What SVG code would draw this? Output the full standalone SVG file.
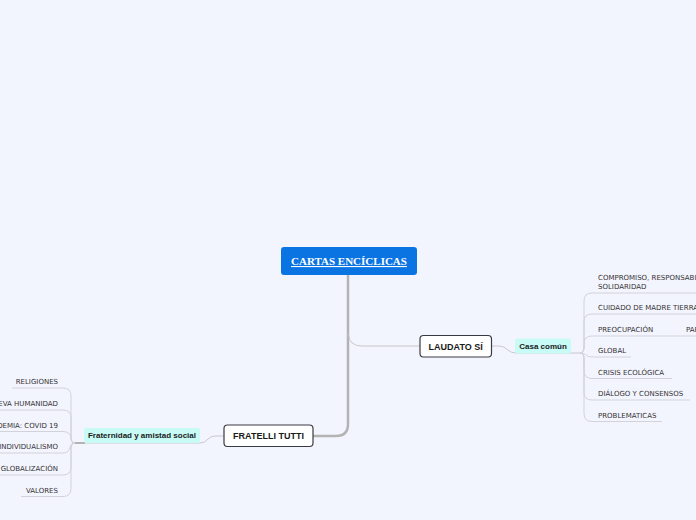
<svg xmlns="http://www.w3.org/2000/svg" width="696" height="520" viewBox="0 0 696 520">
<style>
.bg{fill:#f3f5fe}
.main{fill:#0b74e3}
.mt{font-family:"Liberation Serif",serif;font-weight:bold;font-size:11px;fill:#ffffff;text-decoration:underline}
.topic{fill:#ffffff;stroke:#3a3a44;stroke-width:1.2}
.tt{font-family:"Liberation Sans",Arial,sans-serif;font-weight:bold;font-size:9px;fill:#1a1a1a}
.sub{fill:#c9fbf6}
.st{font-family:"Liberation Sans",Arial,sans-serif;font-weight:bold;font-size:8px;fill:#1a1a1a}
.lt{font-family:"DejaVu Sans",Verdana,sans-serif;font-size:7px;fill:#333333}
.thick{fill:none;stroke:#b3b3b3;stroke-width:2.5}
.thin{fill:none;stroke:#c8c8cc;stroke-width:1}
.ul{fill:none;stroke:#d2d2d8;stroke-width:1}
</style>
<rect class="bg" x="0" y="0" width="696" height="520"/>
<g id="connectors">
<path class="thick" d="M348,274 V424 Q348,436 336,436 H313"/>
<path class="thin" d="M348.5,334 Q349,346 362,346 H420"/>
<path class="thin" d="M491,346 H499 Q504,346 508,350 Q511,353 516,353 H580"/>
<path class="thin" d="M224,436 H215 Q211,436 208,439 Q205,443 200,443 H85"/>
<path class="thick" d="M85,443 H75" style="stroke-width:2"/>
<!-- right fan -->
<path class="ul" d="M580,353 Q584,353 584,347 V301 Q584,293 592,293 H696"/>
<path class="ul" d="M580,353 Q584,353 584,347 V322 Q584,314 592,314 H696"/>
<path class="ul" d="M580,353 Q584,353 584,347 V344 Q584,336 592,336 H696"/>
<path class="ul" d="M580,353 Q584,353 586,355 Q588,357 592,357 H631"/>
<path class="ul" d="M580,353 Q584,353 584,359 V370.5 Q584,378.5 592,378.5 H672"/>
<path class="ul" d="M580,353 Q584,353 584,359 V392 Q584,400 592,400 H690"/>
<path class="ul" d="M580,353 Q584,353 584,359 V413.5 Q584,421.5 592,421.5 H662"/>
<!-- left fan -->
<path class="ul" d="M75,443 Q71,443 71,437 V396 Q71,388 63,388 H12"/>
<path class="ul" d="M75,443 Q71,443 71,437 V418 Q71,410 63,410 H0"/>
<path class="ul" d="M75,443 Q71,443 71,439.5 Q71,431.5 63,431.5 H0"/>
<path class="ul" d="M75,443 Q71,443 70,447 Q69,453 63,453 H0"/>
<path class="ul" d="M75,443 Q71,443 71,449 V467 Q71,475 63,475 H0"/>
<path class="ul" d="M75,443 Q71,443 71,449 V488.5 Q71,496.5 63,496.5 H21"/>
</g>
<g id="cartas">
<rect class="main" x="281" y="247" width="136" height="28" rx="3"/>
<text class="mt" x="349" y="265" text-anchor="middle">CARTAS ENCÍCLICAS</text>
</g>
<g id="laudato">
<rect class="topic" x="420" y="335.5" width="71.5" height="21.5" rx="3.5"/>
<text class="tt" x="455.7" y="349.5" text-anchor="middle">LAUDATO SÍ</text>
</g>
<g id="casa">
<rect class="sub" x="515" y="338.5" width="56" height="15" rx="2"/>
<text class="st" x="543" y="348.8" text-anchor="middle">Casa común</text>
</g>
<g id="fratelli">
<rect class="topic" x="224" y="425" width="89" height="21.5" rx="3.5"/>
<text class="tt" x="268.5" y="439" text-anchor="middle">FRATELLI TUTTI</text>
</g>
<g id="fraternidad">
<rect class="sub" x="84" y="428" width="116" height="15" rx="2"/>
<text class="st" x="142" y="438.3" text-anchor="middle">Fraternidad y amistad social</text>
</g>
<g id="compromiso"><text class="lt" x="598" y="280">COMPROMISO, RESPONSABILIDAD Y</text><text class="lt" x="598" y="288.5">SOLIDARIDAD</text></g>
<g id="cuidado"><text class="lt" x="598" y="309.5">CUIDADO DE MADRE TIERRA</text></g>
<g id="preocupacion"><text class="lt" x="598" y="331.5">PREOCUPACIÓN</text></g>
<g id="pa"><text class="lt" x="686" y="331.5">PARA</text></g>
<g id="global"><text class="lt" x="598" y="353">GLOBAL</text></g>
<g id="crisis"><text class="lt" x="598" y="374.5">CRISIS ECOLÓGICA</text></g>
<g id="dialogo"><text class="lt" x="598" y="396">DIÁLOGO Y CONSENSOS</text></g>
<g id="problematicas"><text class="lt" x="598" y="417.5">PROBLEMATICAS</text></g>
<g id="religiones"><text class="lt" x="58" y="384" text-anchor="end">RELIGIONES</text></g>
<g id="humanidad"><text class="lt" x="58" y="406" text-anchor="end">NUEVA HUMANIDAD</text></g>
<g id="pandemia"><text class="lt" x="58" y="427.5" text-anchor="end">PANDEMIA: COVID 19</text></g>
<g id="individualismo"><text class="lt" x="58" y="449" text-anchor="end">INDIVIDUALISMO</text></g>
<g id="globalizacion"><text class="lt" x="58" y="471" text-anchor="end">GLOBALIZACIÓN</text></g>
<g id="valores"><text class="lt" x="58" y="492.5" text-anchor="end">VALORES</text></g>
</svg>
